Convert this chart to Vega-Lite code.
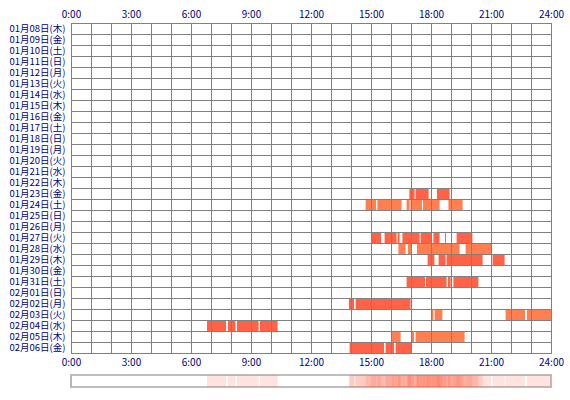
{
  "$schema": "https://vega.github.io/schema/vega-lite/v6.json",
  "autosize": {"type": "pad"},
  "padding": {"left": 8, "top": 8, "right": 5, "bottom": 5},
  "background": "white",
  "bounds": "flush",
  "spacing": 22,
  "datasets": {
    "sessions": [
      {"day": "01月23日(金)", "start": 16.92, "end": 17.18},
      {"day": "01月23日(金)", "start": 17.23, "end": 17.88},
      {"day": "01月23日(金)", "start": 18.3, "end": 18.93},
      {"day": "01月24日(土)", "start": 14.73, "end": 15.25},
      {"day": "01月24日(土)", "start": 15.32, "end": 16.53},
      {"day": "01月24日(土)", "start": 16.78, "end": 16.93},
      {"day": "01月24日(土)", "start": 16.97, "end": 17.55},
      {"day": "01月24日(土)", "start": 17.6, "end": 18.43},
      {"day": "01月24日(土)", "start": 18.87, "end": 19.58},
      {"day": "01月27日(火)", "start": 15.02, "end": 15.5},
      {"day": "01月27日(火)", "start": 15.68, "end": 16.0},
      {"day": "01月27日(火)", "start": 16.05, "end": 16.28},
      {"day": "01月27日(火)", "start": 16.33, "end": 16.43},
      {"day": "01月27日(火)", "start": 16.57, "end": 17.43},
      {"day": "01月27日(火)", "start": 17.48, "end": 18.03},
      {"day": "01月27日(火)", "start": 18.12, "end": 18.43},
      {"day": "01月27日(火)", "start": 18.7, "end": 18.75},
      {"day": "01月27日(火)", "start": 19.28, "end": 20.07},
      {"day": "01月28日(水)", "start": 16.37, "end": 16.73},
      {"day": "01月28日(水)", "start": 16.85, "end": 17.0},
      {"day": "01月28日(水)", "start": 17.3, "end": 19.43},
      {"day": "01月28日(水)", "start": 19.73, "end": 21.0},
      {"day": "01月29日(木)", "start": 17.83, "end": 18.17},
      {"day": "01月29日(木)", "start": 18.38, "end": 18.73},
      {"day": "01月29日(木)", "start": 18.78, "end": 20.58},
      {"day": "01月29日(木)", "start": 21.08, "end": 21.68},
      {"day": "01月31日(土)", "start": 16.78, "end": 17.7},
      {"day": "01月31日(土)", "start": 17.75, "end": 18.78},
      {"day": "01月31日(土)", "start": 18.85, "end": 18.98},
      {"day": "01月31日(土)", "start": 19.12, "end": 20.37},
      {"day": "02月02日(月)", "start": 13.9, "end": 14.15},
      {"day": "02月02日(月)", "start": 14.23, "end": 16.98},
      {"day": "02月03日(火)", "start": 18.05, "end": 18.12},
      {"day": "02月03日(火)", "start": 18.18, "end": 18.57},
      {"day": "02月03日(火)", "start": 21.73, "end": 22.7},
      {"day": "02月03日(火)", "start": 22.8, "end": 24.0},
      {"day": "02月04日(水)", "start": 0.0, "end": 0.05},
      {"day": "02月04日(水)", "start": 6.8, "end": 7.75},
      {"day": "02月04日(水)", "start": 7.85, "end": 8.22},
      {"day": "02月04日(水)", "start": 8.3, "end": 9.38},
      {"day": "02月04日(水)", "start": 9.45, "end": 10.33},
      {"day": "02月05日(木)", "start": 16.0, "end": 16.48},
      {"day": "02月05日(木)", "start": 17.05, "end": 17.15},
      {"day": "02月05日(木)", "start": 17.23, "end": 19.68},
      {"day": "02月06日(金)", "start": 13.93, "end": 15.65},
      {"day": "02月06日(金)", "start": 15.73, "end": 16.15},
      {"day": "02月06日(金)", "start": 16.23, "end": 17.02}
    ]
  },
  "vconcat": [
    {
      "width": 480,
      "height": 330,
      "view": {"stroke": "#808080", "strokeWidth": 1},
      "data": {"name": "sessions"},
      "encoding": {
        "y": {
          "field": "day",
          "type": "nominal",
          "title": null,
          "scale": {
            "domain": [
              "01月08日(木)", "01月09日(金)", "01月10日(土)", "01月11日(日)", "01月12日(月)",
              "01月13日(火)", "01月14日(水)", "01月15日(木)", "01月16日(金)", "01月17日(土)",
              "01月18日(日)", "01月19日(月)", "01月20日(火)", "01月21日(水)", "01月22日(木)",
              "01月23日(金)", "01月24日(土)", "01月25日(日)", "01月26日(月)", "01月27日(火)",
              "01月28日(水)", "01月29日(木)", "01月30日(金)", "01月31日(土)", "02月01日(日)",
              "02月02日(月)", "02月03日(火)", "02月04日(水)", "02月05日(木)", "02月06日(金)"
            ],
            "paddingInner": 0,
            "paddingOuter": 0
          },
          "axis": {
            "grid": true,
            "tickBand": "extent",
            "ticks": false,
            "domain": false,
            "zindex": 1,
            "labelFontSize": 9.5,
            "labelPadding": 6
          }
        },
        "x2": {"field": "end"}
      },
      "layer": [
        {
          "mark": {"type": "rect", "opacity": 0},
          "encoding": {
            "x": {
              "field": "start",
              "type": "quantitative",
              "scale": {"domain": [0, 24], "nice": false},
              "axis": {
                "orient": "top",
                "title": null,
                "values": [0, 1, 2, 3, 4, 5, 6, 7, 8, 9, 10, 11, 12, 13, 14, 15, 16, 17, 18, 19, 20, 21, 22, 23, 24],
                "labelExpr": "datum.value % 3 == 0 ? datum.value + ':00' : ''",
                "labelFlush": false,
                "grid": true,
                "ticks": false,
                "domain": false,
                "zindex": 1,
                "labelPadding": 4
              }
            }
          }
        },
        {
          "mark": {"type": "rect"},
          "encoding": {
            "x": {
              "field": "start",
              "type": "quantitative",
              "axis": {
                "orient": "bottom",
                "title": null,
                "values": [0, 3, 6, 9, 12, 15, 18, 21, 24],
                "labelExpr": "datum.value + ':00'",
                "labelFlush": false,
                "grid": false,
                "ticks": false,
                "domain": false,
                "labelPadding": 4
              }
            },
            "color": {
              "field": "day",
              "type": "nominal",
              "scale": {
                "domain": [
                  "01月08日(木)", "01月09日(金)", "01月10日(土)", "01月11日(日)", "01月12日(月)",
                  "01月13日(火)", "01月14日(水)", "01月15日(木)", "01月16日(金)", "01月17日(土)",
                  "01月18日(日)", "01月19日(月)", "01月20日(火)", "01月21日(水)", "01月22日(木)",
                  "01月23日(金)", "01月24日(土)", "01月25日(日)", "01月26日(月)", "01月27日(火)",
                  "01月28日(水)", "01月29日(木)", "01月30日(金)", "01月31日(土)", "02月01日(日)",
                  "02月02日(月)", "02月03日(火)", "02月04日(水)", "02月05日(木)", "02月06日(金)"
                ],
                "range": ["#FF7F50", "#FF6347"]
              },
              "legend": null
            }
          }
        }
      ]
    },
    {
      "width": 480,
      "height": 12,
      "view": {"stroke": "#BDBDBD", "strokeWidth": 2},
      "data": {"name": "sessions"},
      "mark": {"type": "rect", "color": "#FF6347", "opacity": 0.18},
      "encoding": {
        "x": {
          "field": "start",
          "type": "quantitative",
          "scale": {"domain": [0, 24], "nice": false},
          "axis": null
        },
        "x2": {"field": "end"}
      }
    }
  ],
  "config": {
    "axis": {
      "labelFont": "Noto Sans CJK JP",
      "labelFontSize": 10,
      "labelColor": "#000080",
      "gridColor": "#808080",
      "gridWidth": 1,
      "gridOpacity": 1
    }
  }
}
